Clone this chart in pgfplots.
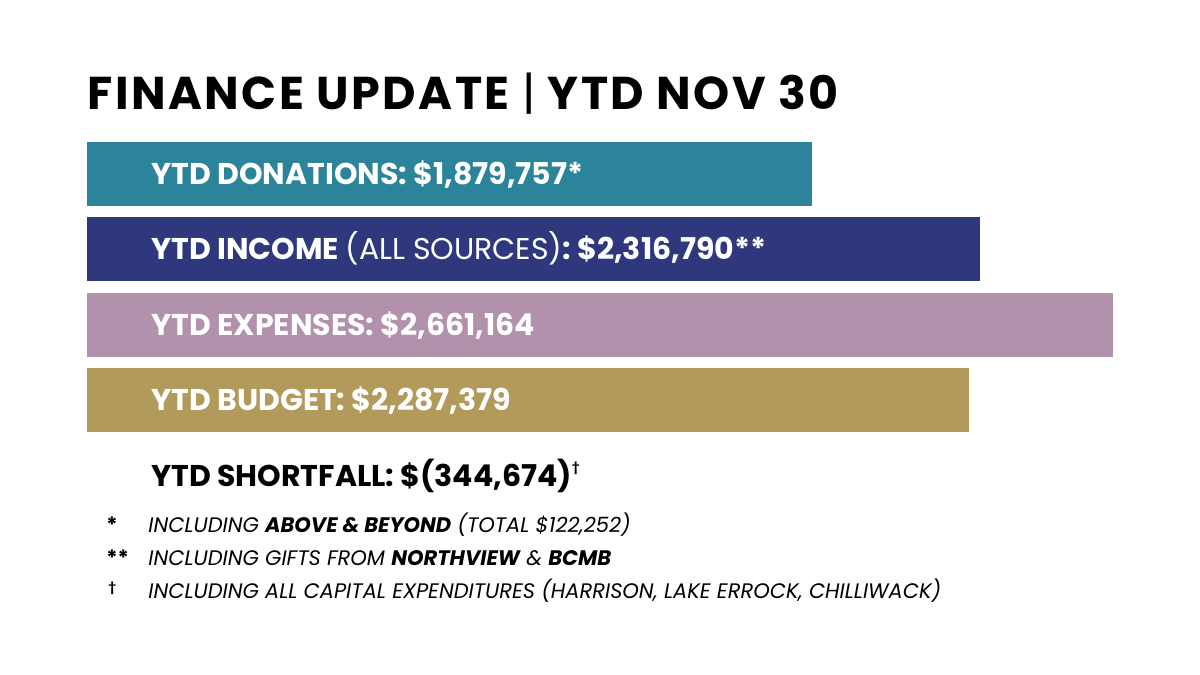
\documentclass[border=0pt]{standalone}
\usepackage{fontspec}
\setmainfont{Poppins}
\newfontfamily\titlefont{Poppins}[LetterSpace=5.5]
\usepackage{pgfplots}
\pgfplotsset{compat=1.18}
\definecolor{cteal}{HTML}{2B8499}
\definecolor{cnavy}{HTML}{2F387C}
\definecolor{cmauve}{HTML}{B291AD}
\definecolor{cgold}{HTML}{B29A5A}
\begin{document}
\begin{tikzpicture}
\path[use as bounding box, fill=white] (0,0) rectangle (600pt,-337.5pt);
% title
\node[anchor=base west, inner sep=0pt, font=\fontsize{23}{26}\titlefont\bfseries] at (43.5pt,-54.5pt) {FINANCE UPDATE {\mdseries|} YTD NOV 30};
\begin{axis}[
  at={(43.5pt,-68.15pt)}, anchor=north west,
  scale only axis, width=513pt, height=150.65pt,
  xmin=0, xmax=2661164, ymin=-0.5, ymax=3.5, y dir=reverse,
  hide axis, clip=false,
  xbar, bar width=32pt, bar shift=0pt,
]
\addplot[draw=none, fill=cteal] coordinates {(1879757,0)};
\addplot[draw=none, fill=cnavy] coordinates {(2316790,1)};
\addplot[draw=none, fill=cmauve] coordinates {(2661164,2)};
\addplot[draw=none, fill=cgold] coordinates {(2287379,3)};
\tikzset{lbl/.style={anchor=base west, inner sep=0pt, text=white, xshift=32pt, yshift=-5.3pt, font=\fontsize{15}{18}\selectfont}}
\node[lbl] at (axis cs:0,0) {\bfseries YTD DONATIONS: \$1,879,757*};
\node[lbl] at (axis cs:0,1) {\bfseries YTD INCOME \mdseries(ALL SOURCES)\bfseries: \$2,316,790**};
\node[lbl] at (axis cs:0,2) {\bfseries YTD EXPENSES: \$2,661,164};
\node[lbl] at (axis cs:0,3) {\bfseries YTD BUDGET: \$2,287,379};
\end{axis}
\node[anchor=base west, inner sep=0pt, font=\fontsize{15}{18}\selectfont\bfseries] at (75.5pt,-243pt) {YTD SHORTFALL: \$(344,674)\raisebox{0.5em}{\fontsize{6}{7}\selectfont †}};
\tikzset{fn/.style={anchor=base west, inner sep=0pt, font=\fontsize{10.5}{12}\selectfont\itshape}}
\node[fn, font=\fontsize{10.5}{12}\selectfont\bfseries] at (53pt,-266pt) {*};
\node[fn, font=\fontsize{10.5}{12}\selectfont\bfseries] at (53pt,-282.5pt) {**};
\node[fn, font=\fontsize{6}{7}\selectfont\bfseries] at (54pt,-295.5pt) {†};
\node[fn] at (74pt,-266pt) {INCLUDING \textbf{ABOVE \& BEYOND} (TOTAL \$122,252)};
\node[fn] at (74pt,-282.5pt) {INCLUDING GIFTS FROM \textbf{NORTHVIEW} \& \textbf{BCMB}};
\node[fn] at (74pt,-299pt) {INCLUDING ALL CAPITAL EXPENDITURES (HARRISON, LAKE ERROCK, CHILLIWACK)};
\end{tikzpicture}
\end{document}
